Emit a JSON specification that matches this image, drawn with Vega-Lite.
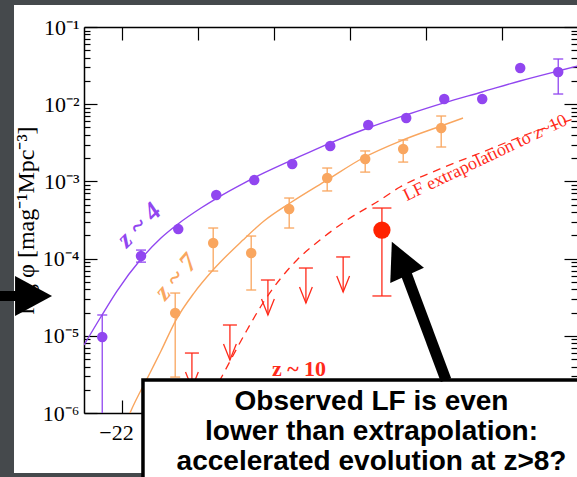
{
  "$schema": "https://vega.github.io/schema/vega-lite/v6.json",
  "usermeta": {"embedOptions": {"actions": false}},
  "autosize": {"type": "none"},
  "width": 493,
  "height": 386,
  "padding": {"left": 84, "top": 27, "right": 0, "bottom": 64},
  "background": "white",
  "config": {
    "view": {"stroke": null},
    "axis": {"domainColor": "black", "domainWidth": 1.5, "tickColor": "black", "tickWidth": 1.2, "labelColor": "black", "labelFont": "Liberation Serif", "labelFontSize": 22, "grid": false, "labelOverlap": false, "labelFlush": false}
  },
  "datasets": {
    "strips": [
      {"a": -24.5, "b": -23.421, "c": 100, "d": 1e-9},
      {"a": -24.5, "b": -15, "c": 100, "d": 0.1926},
      {"a": -24.5, "b": -15, "c": 1.67e-7, "d": 1e-9}
    ],
    "z4fit": [
      {"M": -22.5, "phi": 7.6e-6}, {"M": -22.263, "phi": 1.86e-5}, {"M": -22.066, "phi": 3.8e-5},
      {"M": -21.75, "phi": 9.89e-5}, {"M": -21.487, "phi": 1.85e-4}, {"M": -21.263, "phi": 2.81e-4},
      {"M": -20.961, "phi": 4.52e-4}, {"M": -20.75, "phi": 6.09e-4}, {"M": -20.395, "phi": 9.53e-4},
      {"M": -20.132, "phi": 1.285e-3}, {"M": -19.763, "phi": 1.89e-3}, {"M": -19.263, "phi": 3.14e-3},
      {"M": -18.763, "phi": 4.92e-3}, {"M": -18.263, "phi": 7.25e-3}, {"M": -17.763, "phi": 1.04e-2},
      {"M": -17.263, "phi": 1.44e-2}, {"M": -16.763, "phi": 2.0e-2}, {"M": -16.263, "phi": 2.69e-2},
      {"M": -16.0, "phi": 3.13e-2}
    ],
    "z7fit": [
      {"M": -21.934, "phi": 8.1e-7}, {"M": -21.895, "phi": 1.0e-6}, {"M": -21.632, "phi": 3.3e-6},
      {"M": -21.487, "phi": 6.35e-6}, {"M": -21.29, "phi": 1.6e-5}, {"M": -21.053, "phi": 3.58e-5},
      {"M": -20.803, "phi": 7.11e-5}, {"M": -20.408, "phi": 1.74e-4}, {"M": -20.132, "phi": 3.07e-4},
      {"M": -19.789, "phi": 5.25e-4}, {"M": -19.303, "phi": 1.04e-3}, {"M": -18.829, "phi": 2.01e-3},
      {"M": -18.303, "phi": 3.44e-3}, {"M": -17.803, "phi": 5.22e-3}, {"M": -17.513, "phi": 6.62e-3}
    ],
    "z10ext": [
      {"M": -20.99, "phi": 8.5e-7}, {"M": -20.947, "phi": 1.0e-6}, {"M": -20.711, "phi": 2.67e-6},
      {"M": -20.355, "phi": 1.19e-5}, {"M": -20.145, "phi": 2.66e-5}, {"M": -19.697, "phi": 9.6e-5},
      {"M": -19.395, "phi": 1.74e-4}, {"M": -19.039, "phi": 3.16e-4}, {"M": -18.605, "phi": 5.74e-4},
      {"M": -18.342, "phi": 8.45e-4}, {"M": -17.816, "phi": 1.45e-3}, {"M": -17.289, "phi": 2.33e-3},
      {"M": -16.658, "phi": 4.11e-3}, {"M": -16.013, "phi": 6.62e-3}
    ],
    "pts": [
      {"s": "z4", "M": -22.26, "phi": 9.64e-6, "lo": 5e-7, "hi": 1.86e-5},
      {"s": "z4", "M": -21.75, "phi": 1.08e-4, "lo": 9.0e-5, "hi": 1.29e-4},
      {"s": "z4", "M": -21.26, "phi": 2.41e-4},
      {"s": "z4", "M": -20.76, "phi": 6.67e-4},
      {"s": "z4", "M": -20.26, "phi": 1.04e-3},
      {"s": "z4", "M": -19.76, "phi": 1.68e-3},
      {"s": "z4", "M": -19.26, "phi": 2.88e-3},
      {"s": "z4", "M": -18.76, "phi": 5.38e-3},
      {"s": "z4", "M": -18.26, "phi": 6.62e-3},
      {"s": "z4", "M": -17.76, "phi": 1.17e-2},
      {"s": "z4", "M": -17.26, "phi": 1.17e-2},
      {"s": "z4", "M": -16.76, "phi": 2.94e-2},
      {"s": "z4", "M": -16.26, "phi": 2.61e-2, "lo": 1.355e-2, "hi": 3.85e-2},
      {"s": "z7", "M": -21.3, "phi": 1.97e-5, "lo": 2.92e-6, "hi": 3.58e-5},
      {"s": "z7", "M": -20.8, "phi": 1.59e-4, "lo": 6.9e-5, "hi": 2.49e-4},
      {"s": "z7", "M": -20.3, "phi": 1.18e-4, "lo": 3.92e-5, "hi": 1.96e-4},
      {"s": "z7", "M": -19.8, "phi": 4.38e-4, "lo": 2.49e-4, "hi": 6.09e-4},
      {"s": "z7", "M": -19.3, "phi": 1.107e-3, "lo": 7.52e-4, "hi": 1.49e-3},
      {"s": "z7", "M": -18.8, "phi": 1.95e-3, "lo": 1.32e-3, "hi": 2.48e-3},
      {"s": "z7", "M": -18.3, "phi": 2.63e-3, "lo": 1.78e-3, "hi": 3.44e-3},
      {"s": "z7", "M": -17.8, "phi": 4.92e-3, "lo": 2.79e-3, "hi": 7.03e-3},
      {"s": "z10", "M": -18.58, "phi": 2.34e-4, "lo": 3.28e-5, "hi": 4.52e-4}
    ],
    "lim": [
      {"M": -21.08, "up": 5.98e-6, "tip": 2.11e-6},
      {"M": -20.58, "up": 1.38e-5, "tip": 4.86e-6},
      {"M": -20.08, "up": 5.28e-5, "tip": 1.86e-5},
      {"M": -19.58, "up": 7.55e-5, "tip": 2.66e-5},
      {"M": -19.09, "up": 1.05e-4, "tip": 3.7e-5}
    ]
  },
  "layer": [
    {
      "data": {"name": "strips"},
      "mark": {"type": "rect", "color": "#45494c", "clip": false},
      "encoding": {
        "x": {"field": "a", "type": "quantitative", "scale": {"domain": [-22.5, -16.013], "nice": false, "zero": false}, "axis": null},
        "x2": {"field": "b"},
        "y": {"field": "c", "type": "quantitative", "scale": {"type": "log", "domain": [1e-6, 0.1], "nice": false}, "axis": null},
        "y2": {"field": "d"}
      }
    },
    {
      "data": {"name": "z4fit"},
      "mark": {"type": "line", "color": "#9146f0", "strokeWidth": 1.4, "clip": true, "interpolate": "monotone"},
      "encoding": {
        "x": {"field": "M", "type": "quantitative", "scale": {"domain": [-22.5, -16.013], "nice": false, "zero": false},
          "axis": {"orient": "bottom", "values": [-22, -21, -20, -19, -18, -17], "labelExpr": "datum.value == -22 ? '−22' : ''", "tickSize": -13, "labelPadding": 22, "labelOffset": -6, "title": null}},
        "y": {"field": "phi", "type": "quantitative", "scale": {"type": "log", "domain": [1e-6, 0.1], "nice": false},
          "axis": {"orient": "left",
            "values": [1e-6,2e-6,3e-6,4e-6,5e-6,6e-6,7e-6,8e-6,9e-6,1e-5,2e-5,3e-5,4e-5,5e-5,6e-5,7e-5,8e-5,9e-5,1e-4,2e-4,3e-4,4e-4,5e-4,6e-4,7e-4,8e-4,9e-4,1e-3,2e-3,3e-3,4e-3,5e-3,6e-3,7e-3,8e-3,9e-3,1e-2,2e-2,3e-2,4e-2,5e-2,6e-2,7e-2,8e-2,9e-2,0.1],
            "labelExpr": "abs(log(datum.value)/LN10 - round(log(datum.value)/LN10)) < 0.001 ? '10' + ['⁰','⁻¹','⁻²','⁻³','⁻⁴','⁻⁵','⁻⁶'][-round(log(datum.value)/LN10)] : ''",
            "tickSize": -13,
            "tickDash": {"condition": {"test": "abs(log(datum.value)/LN10 - round(log(datum.value)/LN10)) < 0.001", "value": [30, 0]}, "value": [6, 40]},
            "labelPadding": 18,
            "title": "log φ [mag⁻¹Mpc⁻³]", "titleX": -51, "titleY": 193, "titleAngle": 270, "titleBaseline": "alphabetic",
            "titleFont": "Liberation Serif", "titleFontSize": 24, "titleFontWeight": "normal", "titleColor": "black"}}
      }
    },
    {
      "data": {"name": "z7fit"},
      "mark": {"type": "line", "color": "#f9a65f", "strokeWidth": 1.4, "clip": true, "interpolate": "monotone"},
      "encoding": {
        "x": {"field": "M", "type": "quantitative", "scale": {"domain": [-22.5, -16.013], "nice": false, "zero": false},
          "axis": {"orient": "top", "values": [-22, -21, -20, -19, -18, -17], "labels": false, "tickSize": -13, "title": null}},
        "y": {"field": "phi", "type": "quantitative", "scale": {"type": "log", "domain": [1e-6, 0.1], "nice": false},
          "axis": {"orient": "right",
            "values": [1e-6,2e-6,3e-6,4e-6,5e-6,6e-6,7e-6,8e-6,9e-6,1e-5,2e-5,3e-5,4e-5,5e-5,6e-5,7e-5,8e-5,9e-5,1e-4,2e-4,3e-4,4e-4,5e-4,6e-4,7e-4,8e-4,9e-4,1e-3,2e-3,3e-3,4e-3,5e-3,6e-3,7e-3,8e-3,9e-3,1e-2,2e-2,3e-2,4e-2,5e-2,6e-2,7e-2,8e-2,9e-2,0.1],
            "labels": false, "domain": false, "tickSize": -13,
            "tickDash": {"condition": {"test": "abs(log(datum.value)/LN10 - round(log(datum.value)/LN10)) < 0.001", "value": [30, 0]}, "value": [6, 40]},
            "title": null}}
      }
    },
    {
      "data": {"name": "z10ext"},
      "mark": {"type": "line", "color": "#ff2a1a", "strokeWidth": 1.3, "strokeDash": [8, 6], "clip": true, "interpolate": "monotone"},
      "encoding": {
        "x": {"field": "M", "type": "quantitative", "scale": {"domain": [-22.5, -16.013], "nice": false, "zero": false}, "axis": null},
        "y": {"field": "phi", "type": "quantitative", "scale": {"type": "log", "domain": [1e-6, 0.1], "nice": false}, "axis": null}
      }
    },
    {
      "data": {"name": "pts"},
      "transform": [{"filter": "isValid(datum.lo)"}],
      "mark": {"type": "rule", "strokeWidth": 1.3, "clip": true},
      "encoding": {
        "x": {"field": "M", "type": "quantitative", "scale": {"domain": [-22.5, -16.013], "nice": false, "zero": false}, "axis": null},
        "y": {"field": "lo", "type": "quantitative", "scale": {"type": "log", "domain": [1e-6, 0.1], "nice": false}, "axis": null},
        "y2": {"field": "hi"},
        "color": {"field": "s", "type": "nominal", "scale": {"domain": ["z4", "z7", "z10"], "range": ["#9146f0", "#f9a65f", "#ff2a1a"]}, "legend": null}
      }
    },
    {
      "data": {"name": "pts"},
      "transform": [{"filter": "datum.s != 'z10'"}, {"fold": ["lo", "hi"], "as": ["end", "v"]}, {"filter": "isValid(datum.v)"}],
      "mark": {"type": "tick", "orient": "horizontal", "thickness": 1.3, "size": 10, "opacity": 1, "clip": true},
      "encoding": {
        "x": {"field": "M", "type": "quantitative", "scale": {"domain": [-22.5, -16.013], "nice": false, "zero": false}, "axis": null},
        "y": {"field": "v", "type": "quantitative", "scale": {"type": "log", "domain": [1e-6, 0.1], "nice": false}, "axis": null},
        "color": {"field": "s", "type": "nominal", "scale": {"domain": ["z4", "z7", "z10"], "range": ["#9146f0", "#f9a65f", "#ff2a1a"]}, "legend": null}
      }
    },
    {
      "data": {"name": "pts"},
      "transform": [{"filter": "datum.s == 'z10'"}, {"fold": ["lo", "hi"], "as": ["end", "v"]}],
      "mark": {"type": "tick", "orient": "horizontal", "thickness": 1.3, "size": 19, "opacity": 1, "color": "#ff2a1a", "clip": true},
      "encoding": {
        "x": {"field": "M", "type": "quantitative", "scale": {"domain": [-22.5, -16.013], "nice": false, "zero": false}, "axis": null},
        "y": {"field": "v", "type": "quantitative", "scale": {"type": "log", "domain": [1e-6, 0.1], "nice": false}, "axis": null}
      }
    },
    {
      "data": {"name": "pts"},
      "transform": [{"filter": "datum.s != 'z10'"}],
      "mark": {"type": "circle", "opacity": 1, "size": 110},
      "encoding": {
        "x": {"field": "M", "type": "quantitative", "scale": {"domain": [-22.5, -16.013], "nice": false, "zero": false}, "axis": null},
        "y": {"field": "phi", "type": "quantitative", "scale": {"type": "log", "domain": [1e-6, 0.1], "nice": false}, "axis": null},
        "color": {"field": "s", "type": "nominal", "scale": {"domain": ["z4", "z7", "z10"], "range": ["#9146f0", "#f9a65f", "#ff2a1a"]}, "legend": null}
      }
    },
    {
      "data": {"name": "pts"},
      "transform": [{"filter": "datum.s == 'z10'"}],
      "mark": {"type": "point", "shape": "circle", "filled": true, "opacity": 1, "size": 300, "color": "#ff2200"},
      "encoding": {
        "x": {"field": "M", "type": "quantitative", "scale": {"domain": [-22.5, -16.013], "nice": false, "zero": false}, "axis": null},
        "y": {"field": "phi", "type": "quantitative", "scale": {"type": "log", "domain": [1e-6, 0.1], "nice": false}, "axis": null}
      }
    },
    {
      "data": {"name": "lim"},
      "mark": {"type": "rule", "color": "#ff2a1a", "strokeWidth": 1.3, "clip": true},
      "encoding": {
        "x": {"field": "M", "type": "quantitative", "scale": {"domain": [-22.5, -16.013], "nice": false, "zero": false}, "axis": null},
        "y": {"field": "up", "type": "quantitative", "scale": {"type": "log", "domain": [1e-6, 0.1], "nice": false}, "axis": null},
        "y2": {"field": "tip"}
      }
    },
    {
      "data": {"name": "lim"},
      "mark": {"type": "tick", "orient": "horizontal", "color": "#ff2a1a", "thickness": 1.3, "size": 14, "opacity": 1, "clip": true},
      "encoding": {
        "x": {"field": "M", "type": "quantitative", "scale": {"domain": [-22.5, -16.013], "nice": false, "zero": false}, "axis": null},
        "y": {"field": "up", "type": "quantitative", "scale": {"type": "log", "domain": [1e-6, 0.1], "nice": false}, "axis": null}
      }
    },
    {
      "data": {"name": "lim"},
      "mark": {"type": "point", "shape": "M-0.8,-2L0,0L0.8,-2", "size": 256, "filled": false, "color": "#ff2a1a", "strokeWidth": 1.3, "opacity": 1, "clip": true},
      "encoding": {
        "x": {"field": "M", "type": "quantitative", "scale": {"domain": [-22.5, -16.013], "nice": false, "zero": false}, "axis": null},
        "y": {"field": "tip", "type": "quantitative", "scale": {"type": "log", "domain": [1e-6, 0.1], "nice": false}, "axis": null}
      }
    },
    {
      "data": {"values": [{"M": -21.776, "phi": 2.72e-4, "t": "z ~ 4"}]},
      "mark": {"type": "text", "font": "Liberation Serif", "fontSize": 26, "fontWeight": "bold", "fontStyle": "italic", "color": "#9146f0", "angle": 315, "align": "center", "baseline": "middle"},
      "encoding": {
        "x": {"field": "M", "type": "quantitative", "scale": {"domain": [-22.5, -16.013], "nice": false, "zero": false}, "axis": null},
        "y": {"field": "phi", "type": "quantitative", "scale": {"type": "log", "domain": [1e-6, 0.1], "nice": false}, "axis": null},
        "text": {"field": "t"}
      }
    },
    {
      "data": {"values": [{"M": -21.29, "phi": 5.78e-5, "t": "z ~ 7"}]},
      "mark": {"type": "text", "font": "Liberation Serif", "fontSize": 26, "fontWeight": "bold", "fontStyle": "italic", "color": "#f9a65f", "angle": 311, "align": "center", "baseline": "middle"},
      "encoding": {
        "x": {"field": "M", "type": "quantitative", "scale": {"domain": [-22.5, -16.013], "nice": false, "zero": false}, "axis": null},
        "y": {"field": "phi", "type": "quantitative", "scale": {"type": "log", "domain": [1e-6, 0.1], "nice": false}, "axis": null},
        "text": {"field": "t"}
      }
    },
    {
      "data": {"values": [{"M": -19.671, "phi": 3.01e-6, "t": "z ~ 10"}]},
      "mark": {"type": "text", "font": "Liberation Serif", "fontSize": 22, "fontWeight": "bold", "color": "#ff2a1a", "align": "center", "baseline": "alphabetic"},
      "encoding": {
        "x": {"field": "M", "type": "quantitative", "scale": {"domain": [-22.5, -16.013], "nice": false, "zero": false}, "axis": null},
        "y": {"field": "phi", "type": "quantitative", "scale": {"type": "log", "domain": [1e-6, 0.1], "nice": false}, "axis": null},
        "text": {"field": "t"}
      }
    },
    {
      "data": {"values": [{"M": -17.19, "phi": 1.75e-3, "t": "LF extrapolation to z~10"}]},
      "mark": {"type": "text", "font": "Liberation Serif", "fontSize": 18, "color": "#ff2a1a", "angle": 334.5, "align": "center", "baseline": "alphabetic"},
      "encoding": {
        "x": {"field": "M", "type": "quantitative", "scale": {"domain": [-22.5, -16.013], "nice": false, "zero": false}, "axis": null},
        "y": {"field": "phi", "type": "quantitative", "scale": {"type": "log", "domain": [1e-6, 0.1], "nice": false}, "axis": null},
        "text": {"field": "t"}
      }
    },
    {
      "data": {"values": [{"M": -24.0, "M2": -23.26, "phi": 3.28e-5}]},
      "mark": {"type": "rule", "color": "black", "strokeWidth": 10, "strokeCap": "butt", "clip": false},
      "encoding": {
        "x": {"field": "M", "type": "quantitative", "scale": {"domain": [-22.5, -16.013], "nice": false, "zero": false}, "axis": null},
        "x2": {"field": "M2"},
        "y": {"field": "phi", "type": "quantitative", "scale": {"type": "log", "domain": [1e-6, 0.1], "nice": false}, "axis": null}
      }
    },
    {
      "data": {"values": [{"M": -23.164, "phi": 3.28e-5}]},
      "mark": {"type": "point", "shape": "M-1,-1.08L1,0L-1,1.08Z", "size": 1369, "filled": true, "color": "black", "opacity": 1, "clip": false},
      "encoding": {
        "x": {"field": "M", "type": "quantitative", "scale": {"domain": [-22.5, -16.013], "nice": false, "zero": false}, "axis": null},
        "y": {"field": "phi", "type": "quantitative", "scale": {"type": "log", "domain": [1e-6, 0.1], "nice": false}, "axis": null}
      }
    },
    {
      "data": {"values": [{"M": -21.724, "M2": -15, "phi": 2.676e-6, "phi2": 1e-9}]},
      "mark": {"type": "rect", "fill": "white", "stroke": "black", "strokeWidth": 3.5, "clip": false},
      "encoding": {
        "x": {"field": "M", "type": "quantitative", "scale": {"domain": [-22.5, -16.013], "nice": false, "zero": false}, "axis": null},
        "x2": {"field": "M2"},
        "y": {"field": "phi", "type": "quantitative", "scale": {"type": "log", "domain": [1e-6, 0.1], "nice": false}, "axis": null},
        "y2": {"field": "phi2"}
      }
    },
    {
      "data": {"values": [
        {"M": -18.717, "phi": 1.094e-6, "t": "Observed LF is even"},
        {"M": -18.717, "phi": 4.467e-7, "t": "lower than extrapolation:"},
        {"M": -18.717, "phi": 1.827e-7, "t": "accelerated evolution at z>8?"}
      ]},
      "mark": {"type": "text", "font": "Liberation Sans", "fontSize": 28, "fontWeight": "bold", "color": "black", "align": "center", "baseline": "alphabetic", "clip": false},
      "encoding": {
        "x": {"field": "M", "type": "quantitative", "scale": {"domain": [-22.5, -16.013], "nice": false, "zero": false}, "axis": null},
        "y": {"field": "phi", "type": "quantitative", "scale": {"type": "log", "domain": [1e-6, 0.1], "nice": false}, "axis": null},
        "text": {"field": "t"}
      }
    },
    {
      "data": {"values": [{"M": -17.737, "phi": 2.67e-6, "M2": -18.289, "phi2": 7.55e-5}]},
      "mark": {"type": "rule", "color": "black", "strokeWidth": 11, "strokeCap": "butt", "clip": false},
      "encoding": {
        "x": {"field": "M", "type": "quantitative", "scale": {"domain": [-22.5, -16.013], "nice": false, "zero": false}, "axis": null},
        "x2": {"field": "M2"},
        "y": {"field": "phi", "type": "quantitative", "scale": {"type": "log", "domain": [1e-6, 0.1], "nice": false}, "axis": null},
        "y2": {"field": "phi2"}
      }
    },
    {
      "data": {"values": [{"M": -18.349, "phi": 1.0e-4}]},
      "mark": {"type": "point", "shape": "M0,-1L1,1L-1,1Z", "size": 1369, "angle": 335.6, "filled": true, "color": "black", "opacity": 1, "clip": false},
      "encoding": {
        "x": {"field": "M", "type": "quantitative", "scale": {"domain": [-22.5, -16.013], "nice": false, "zero": false}, "axis": null},
        "y": {"field": "phi", "type": "quantitative", "scale": {"type": "log", "domain": [1e-6, 0.1], "nice": false}, "axis": null}
      }
    }
  ],
  "resolve": {"axis": {"x": "independent", "y": "independent"}}
}
